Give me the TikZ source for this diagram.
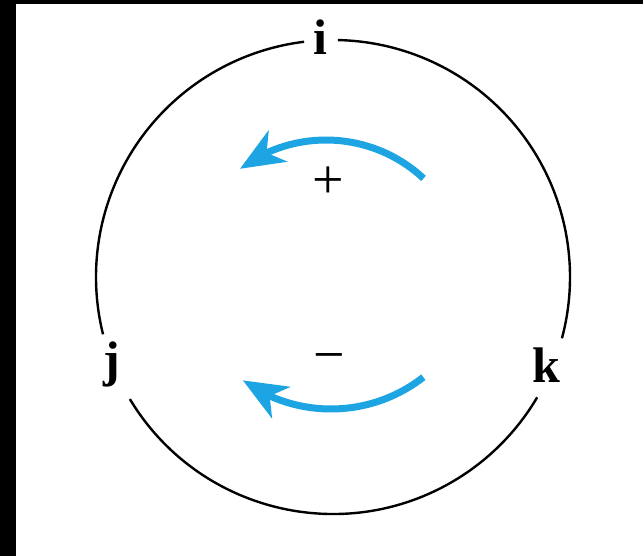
\documentclass[tikz,border=0pt]{standalone}
\usepackage{fontspec}
\setmainfont{Liberation Serif}
\usetikzlibrary{arrows.meta,bending}
\definecolor{arrowblue}{RGB}{28,165,226}
\begin{document}
\begin{tikzpicture}[x=1pt,y=1pt,
  ring/.style={line width=2.4pt, black},
  rotarrow/.style={line width=7pt, arrowblue, -{Stealth[length=44pt,width=36pt,inset=13pt,flex]}},
  lbl/.style={font=\fontsize{50}{52}\bfseries\selectfont, inner sep=0pt, anchor=base},
  sign/.style={font=\fontsize{56}{56}\selectfont, inner sep=0pt}]
\useasboundingbox (0,0) rectangle (643,-556);
\fill[white] (0,0) rectangle (643,-556);
\fill[black] (0,0) rectangle (16,-556);
\fill[black] (0,0) rectangle (643,-4);
\coordinate (O) at (333,-277);
\draw[ring] (O) ++(97:237) arc[start angle=97, end angle=194, radius=237];
\draw[ring] (O) ++(211:237) arc[start angle=211, end angle=329.5, radius=237];
\draw[ring] (O) ++(-15:237) arc[start angle=-15, end angle=88.8, radius=237];
\node[lbl] (i) at (320,-55) {i};
\node[lbl] (j) at (112,-376) {j};
\node[lbl] (k) at (546,-382) {k};
\node[sign] (plus) at (328,-183) {+};
\node[sign] (minus) at (329,-364) {−};
\coordinate (Cu) at (326,-283);
\coordinate (Cl) at (331,-259);
\draw[rotarrow] (Cu) ++(47:143) arc[start angle=47, end angle=127, radius=143];
\draw[rotarrow] (Cl) ++(-52:150) arc[start angle=-52, end angle=-126, radius=150];
\end{tikzpicture}
\end{document}
